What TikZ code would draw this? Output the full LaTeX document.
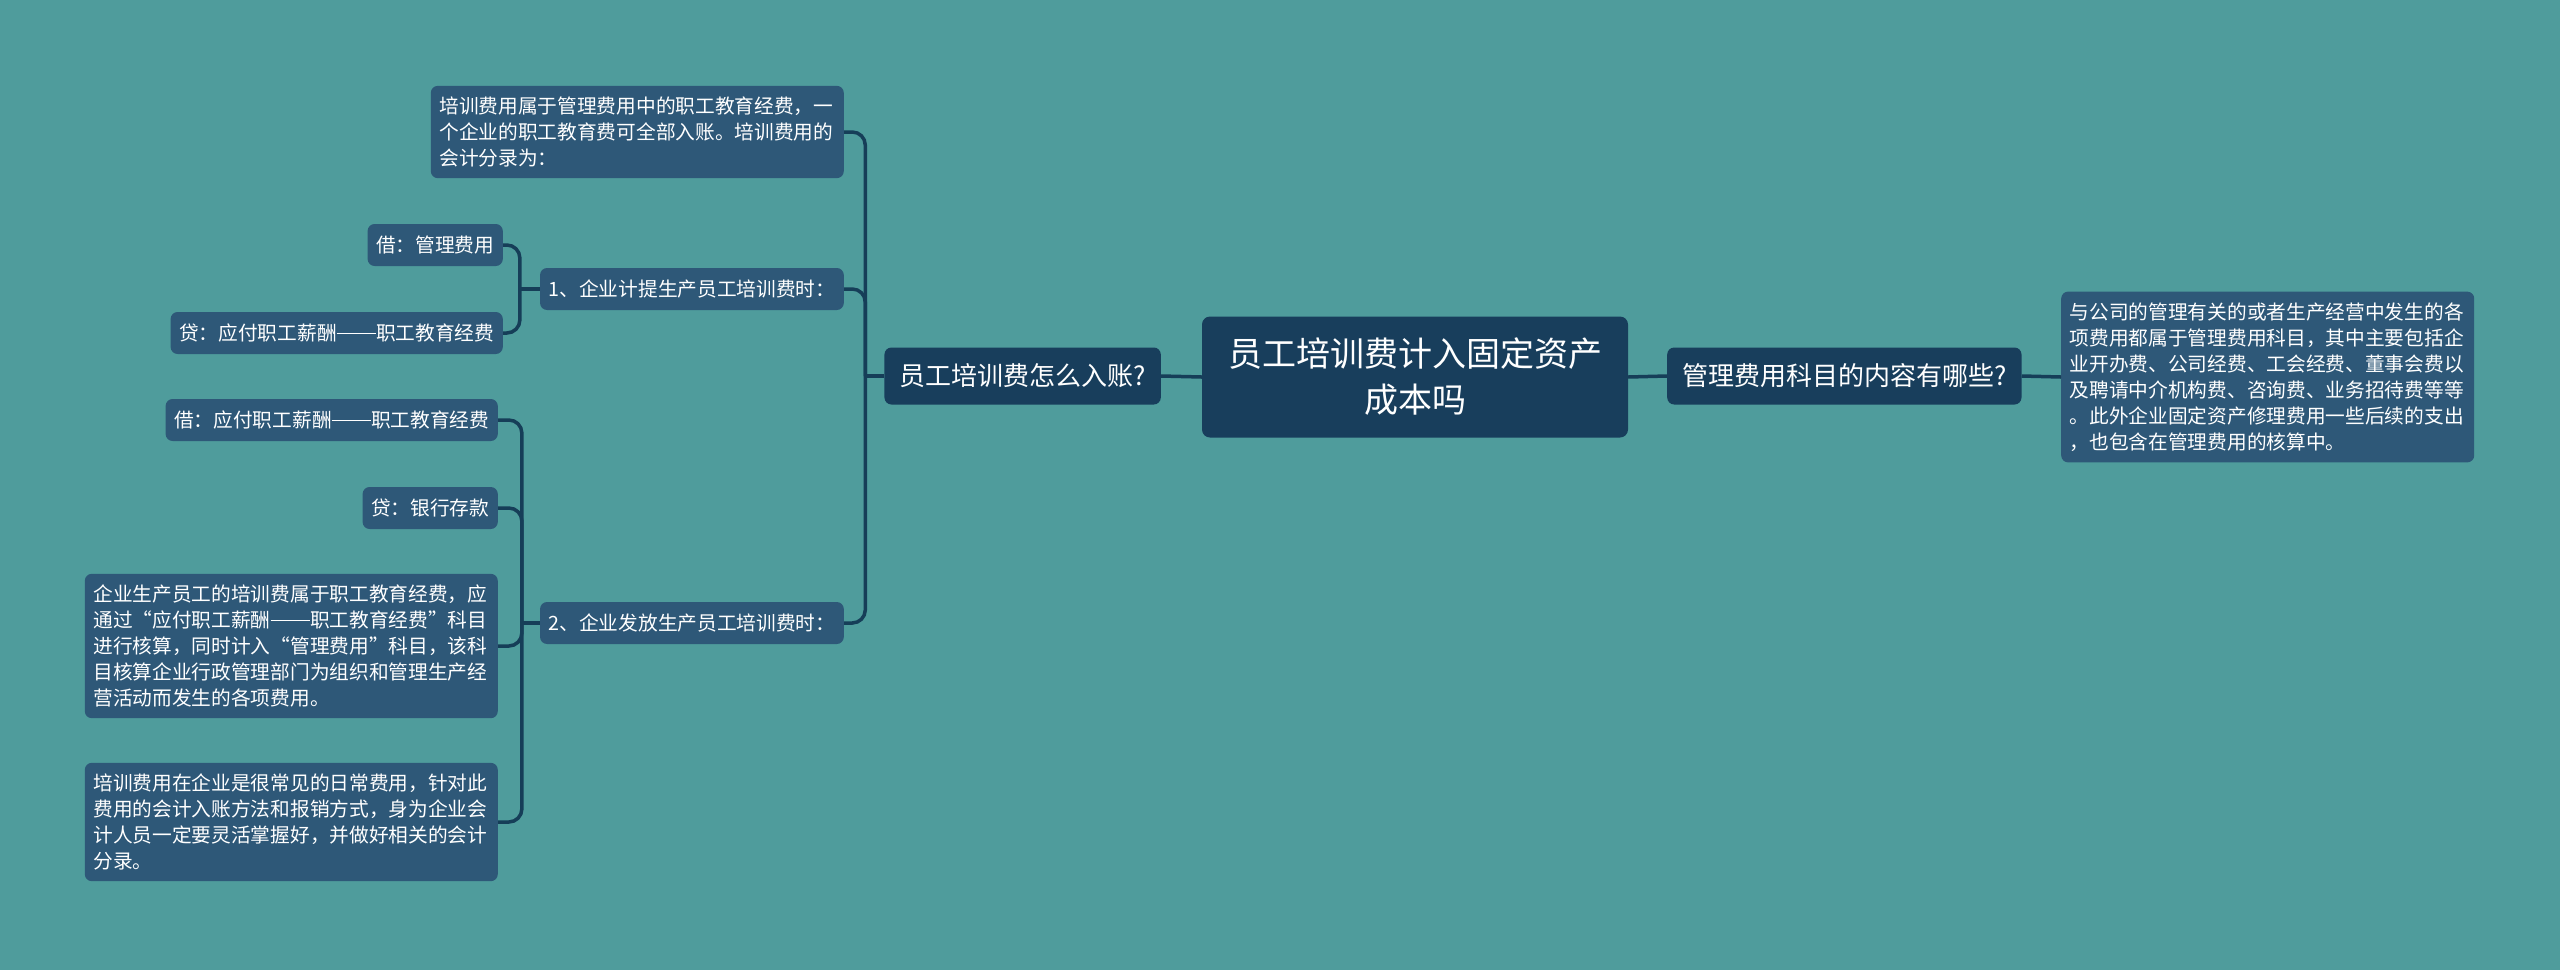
\documentclass[tikz,border=0pt]{standalone}
\usepackage{fontspec}
\setmainfont{Noto Sans CJK SC}
\usepackage{xcolor}
\usepackage{tikz}
\usetikzlibrary{positioning,calc}
\definecolor{bgteal}{HTML}{4F9C9C}
\definecolor{rootblue}{HTML}{183E5C}
\definecolor{leafblue}{HTML}{2E5878}
\definecolor{linkblue}{HTML}{163E58}
\newcommand{\longdash}{\rule[0.32em]{2em}{0.06em}}
\tikzset{
    every node/.style={text=white},
    rootbox/.style={fill=rootblue, rounded corners=8pt, align=center, font=\fontsize{34pt}{46pt}\selectfont, minimum width=426pt, minimum height=121pt},
    topicbox/.style={fill=rootblue, rounded corners=7pt, font=\fontsize{26pt}{32pt}\selectfont, inner xsep=15pt, minimum height=57pt},
    leafbox/.style={fill=leafblue, rounded corners=7pt, font=\fontsize{19.7pt}{26pt}\selectfont, inner xsep=8.5pt, inner ysep=11pt, minimum height=42pt},
    notebox/.style={leafbox, text width=396pt, align=left},
    joinline/.style={draw=linkblue, line width=3.5pt},
    forkline/.style={joinline, rounded corners=13pt}
}

\begin{document}
\begin{tikzpicture}[x=1pt, y=-1pt]
    \fill[bgteal] (0,0) rectangle (2560,970);
    \useasboundingbox (0,0) rectangle (2560,970);

    \node[rootbox] (root) at (1415,377) {员工培训费计入固定资产\\成本吗};
    \node[topicbox, anchor=east] (ask) at (1161,376) {员工培训费怎么入账?};
    \node[topicbox, anchor=west] (mgmt) at (1667,376) {管理费用科目的内容有哪些?};
    \node[notebox, anchor=west] (mgmtnote) at (2061,377) {与公司的管理有关的或者生产经营中发生的各\\项费用都属于管理费用科目，其中主要包括企\\业开办费、公司经费、工会经费、董事会费以\\及聘请中介机构费、咨询费、业务招待费等等\\。此外企业固定资产修理费用一些后续的支出\\，也包含在管理费用的核算中。};

    \node[notebox, anchor=east] (intro) at (844,132) {培训费用属于管理费用中的职工教育经费，一\\个企业的职工教育费可全部入账。培训费用的\\会计分录为：};
    \node[leafbox, anchor=east] (stepone) at (844,289) {1、企业计提生产员工培训费时：};
    \node[leafbox, anchor=east] (steptwo) at (844,623) {2、企业发放生产员工培训费时：};

    \node[leafbox, anchor=east] (debitone) at (503,245) {借：管理费用};
    \node[leafbox, anchor=east] (creditone) at (503,333) {贷：应付职工薪酬\longdash 职工教育经费};

    \node[leafbox, anchor=east] (debittwo) at (498,420) {借：应付职工薪酬\longdash 职工教育经费};
    \node[leafbox, anchor=east] (credittwo) at (498,508) {贷：银行存款};
    \node[notebox, anchor=east] (noteone) at (498,646) {企业生产员工的培训费属于职工教育经费，应\\通过“应付职工薪酬\longdash 职工教育经费”科目\\进行核算，同时计入“管理费用”科目，该科\\目核算企业行政管理部门为组织和管理生产经\\营活动而发生的各项费用。};
    \node[notebox, anchor=east] (notetwo) at (498,822) {培训费用在企业是很常见的日常费用，针对此\\费用的会计入账方法和报销方式，身为企业会\\计人员一定要灵活掌握好，并做好相关的会计\\分录。};

    \coordinate[left=19pt of ask.west] (askfork);
    \coordinate[left=20pt of stepone.west] (onefork);
    \coordinate[left=18pt of steptwo.west] (twofork);

    \draw[joinline] (root.west) -- (ask.east);
    \draw[joinline] (root.east) -- (mgmt.west);
    \draw[joinline] (mgmt.east) -- (mgmtnote.west);

    \draw[joinline] (ask.west) -- (askfork);
    \draw[forkline] (askfork) |- (intro.east);
    \draw[forkline] (askfork) |- (stepone.east);
    \draw[forkline] (askfork) |- (steptwo.east);

    \draw[joinline] (stepone.west) -- (onefork);
    \draw[forkline] (onefork) |- (debitone.east);
    \draw[forkline] (onefork) |- (creditone.east);

    \draw[joinline] (steptwo.west) -- (twofork);
    \draw[forkline] (twofork) |- (debittwo.east);
    \draw[forkline] (twofork) |- (credittwo.east);
    \draw[forkline] (twofork) |- (noteone.east);
    \draw[forkline] (twofork) |- (notetwo.east);
\end{tikzpicture}
\end{document}
